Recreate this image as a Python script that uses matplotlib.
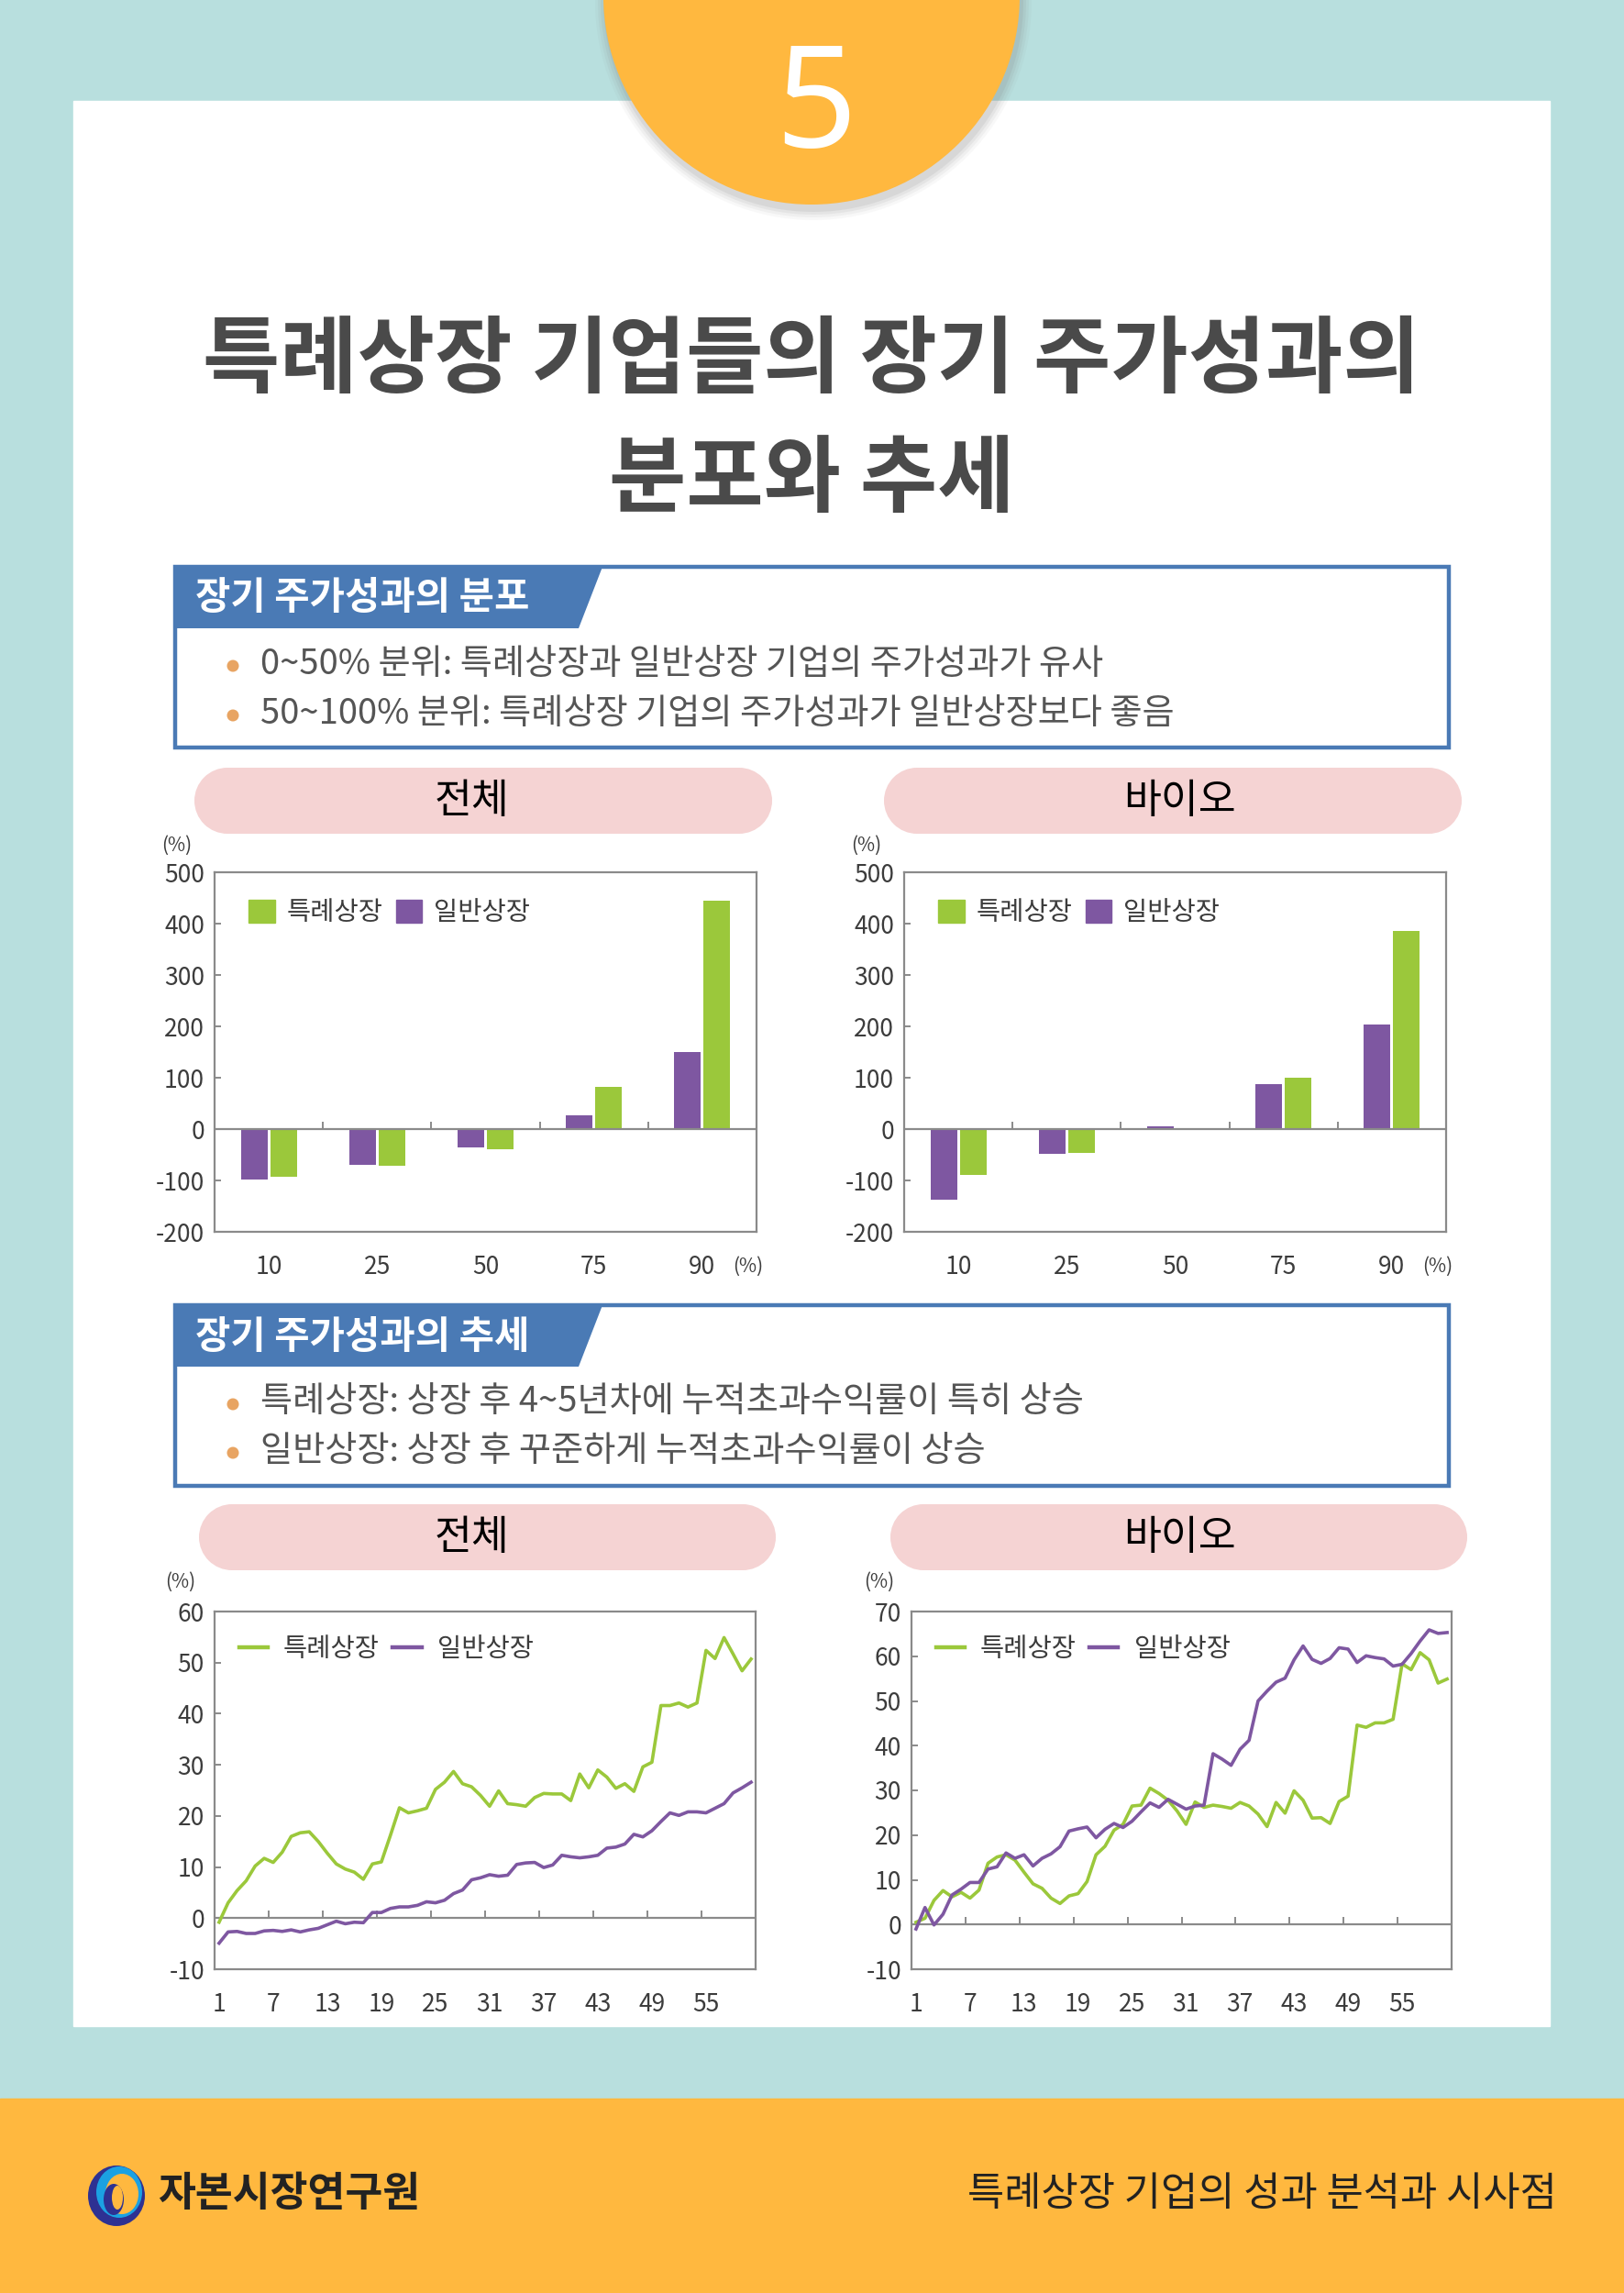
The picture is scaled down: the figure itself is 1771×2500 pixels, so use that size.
import matplotlib
matplotlib.use("Agg")
import matplotlib.pyplot as plt
from matplotlib.patches import Rectangle, Polygon, Circle, Ellipse, Patch
from matplotlib.lines import Line2D
import numpy as np

plt.rcParams["font.family"] = ["Noto Sans CJK KR", "DejaVu Sans"]
plt.rcParams["axes.unicode_minus"] = False

W, H = 1771, 2500

# === Data ===
series_names = ["특례상장", "일반상장"]
percentiles = ["10", "25", "50", "75", "90"]
bar_all_special = [-93, -72, -40, 82, 445]
bar_all_general = [-98, -70, -35, 26, 150]
bar_bio_special = [-89, -46, 0, 100, 386]
bar_bio_general = [-138, -49, 6, 87, 203]

months = list(range(1, 61))
month_labels = ["1", "7", "13", "19", "25", "31", "37", "43", "49", "55"]

line_all_special = [
    -0.8, 3.0, 5.4, 7.3, 10.2, 11.7, 10.9, 12.9, 16.0, 16.7,
    16.9, 15.0, 12.7, 10.6, 9.6, 9.0, 7.6, 10.6, 11.0, 16.2,
    21.6, 20.6, 21.0, 21.5, 25.2, 26.6, 28.7, 26.3, 25.7, 24.0,
    21.9, 24.9, 22.4, 22.2, 21.9, 23.6, 24.4, 24.3, 24.3, 23.0,
    28.2, 25.5, 29.0, 27.6, 25.4, 26.3, 24.8, 29.6, 30.5, 41.6,
    41.6, 42.1, 41.3, 42.1, 52.4, 50.8, 54.9, 51.7, 48.4, 50.7]
line_all_general = [
    -4.9, -2.7, -2.6, -3.0, -3.0, -2.5, -2.4, -2.6, -2.3, -2.7,
    -2.3, -2.0, -1.3, -0.6, -1.1, -0.8, -0.9, 1.1, 1.1, 1.9,
    2.2, 2.2, 2.5, 3.2, 3.0, 3.5, 4.8, 5.5, 7.5, 7.9,
    8.5, 8.2, 8.4, 10.5, 10.8, 10.9, 9.9, 10.4, 12.3, 12.0,
    11.8, 12.0, 12.3, 13.7, 13.9, 14.5, 16.4, 15.9, 17.1, 18.9,
    20.6, 20.1, 20.8, 20.8, 20.6, 21.5, 22.4, 24.5, 25.5, 26.6]
line_bio_special = [
    0.5, 1.4, 5.4, 7.6, 6.2, 7.2, 5.9, 7.7, 13.7, 15.1,
    15.6, 14.4, 11.7, 9.1, 8.1, 5.9, 4.7, 6.4, 6.9, 9.6,
    15.6, 17.5, 21.1, 22.4, 26.5, 26.7, 30.5, 29.3, 27.8, 25.4,
    22.4, 27.4, 26.2, 26.7, 26.4, 26.0, 27.3, 26.5, 24.7, 21.9,
    27.3, 24.9, 29.9, 27.8, 23.8, 23.9, 22.6, 27.5, 28.7, 44.6,
    44.1, 45.1, 45.1, 45.9, 58.3, 57.0, 60.8, 59.2, 54.0, 54.9]
line_bio_general = [
    -1.0, 3.8, -0.1, 2.3, 6.6, 7.9, 9.4, 9.4, 12.4, 12.9,
    16.0, 14.8, 15.6, 13.1, 14.8, 15.8, 17.4, 20.9, 21.4, 21.8,
    19.4, 21.3, 22.6, 21.7, 23.1, 25.2, 27.2, 26.2, 28.0, 26.9,
    25.8, 26.5, 26.7, 38.2, 37.0, 35.6, 39.2, 41.2, 50.0, 52.2,
    54.2, 55.1, 59.2, 62.3, 59.3, 58.4, 59.5, 61.9, 61.6, 58.6,
    60.1, 59.7, 59.4, 57.8, 58.2, 60.6, 63.4, 65.9, 65.1, 65.3]

# === Style ===
TEAL = "#B8DFDE"
ORANGE = "#FFB83F"
BLUE = "#4A7AB5"
PINK = "#F5D3D3"
GREEN = "#9BC83B"
PURPLE = "#7E57A1"
FRAME = "#8A8A8A"
TXT = "#3C3C3C"
BULLET = "#E8A462"

fig = plt.figure(figsize=(W / 100, H / 100), dpi=100)
fig.patch.set_facecolor(TEAL)

bg = fig.add_axes([0, 0, 1, 1])
bg.set_xlim(0, W)
bg.set_ylim(H, 0)
bg.axis("off")

# white panel and footer
bg.add_patch(Rectangle((80, 110), 1610, 2099, color="white", zorder=1))
bg.add_patch(Rectangle((0, 2288), W, 212, color=ORANGE, zorder=1))

# orange circle with soft shadow
for i, a in enumerate([0.05, 0.07, 0.09, 0.12]):
    bg.add_patch(Circle((887, 2), 238 - i * 3, color="#808080", alpha=a, zorder=2, lw=0))
bg.add_patch(Circle((885, -4), 227, color=ORANGE, zorder=3, lw=0))
bg.text(890, 120, "5", color="white", fontsize=112, ha="center", va="center",
        family=["Noto Sans", "DejaVu Sans"], zorder=4)

# title
bg.text(885, 394, "특례상장 기업들의 장기 주가성과의", fontsize=66, fontweight="bold",
        color="#4A4A4A", ha="center", va="center", zorder=4)
bg.text(885, 524, "분포와 추세", fontsize=66, fontweight="bold",
        color="#4A4A4A", ha="center", va="center", zorder=4)


def section_box(y0, y1, tab_bottom, title, lines):
    bg.add_patch(Rectangle((191, y0), 1389, y1 - y0, fill=False, edgecolor=BLUE,
                           lw=3.2, zorder=4))
    bg.add_patch(Polygon([(191, y0), (657, y0), (631, tab_bottom), (191, tab_bottom)],
                         closed=True, color=BLUE, zorder=4, lw=0))
    bg.text(213, (y0 + tab_bottom) / 2 + 1, title, color="white", fontsize=30,
            fontweight="bold", ha="left", va="center", zorder=5)
    for yy, s in lines:
        bg.add_patch(Circle((254, yy + 2), 6.5, color=BULLET, zorder=5, lw=0))
        bg.text(284, yy, s, color="#555555", fontsize=27.5, ha="left", va="center", zorder=5)


section_box(618, 815, 685, "장기 주가성과의 분포",
            [(724, "0~50% 분위: 특례상장과 일반상장 기업의 주가성과가 유사"),
             (778, "50~100% 분위: 특례상장 기업의 주가성과가 일반상장보다 좋음")])
section_box(1423, 1620, 1490, "장기 주가성과의 추세",
            [(1529, "특례상장: 상장 후 4~5년차에 누적초과수익률이 특히 상승"),
             (1582, "일반상장: 상장 후 꾸준하게 누적초과수익률이 상승")])


def pill(x0, x1, y0, y1, label, tx):
    h = y1 - y0
    r = h / 2
    bg.add_patch(Rectangle((x0 + r, y0), (x1 - x0) - h, h, color=PINK, zorder=4, lw=0))
    bg.add_patch(Ellipse((x0 + r, y0 + r), h, h, color=PINK, zorder=4, lw=0))
    bg.add_patch(Ellipse((x1 - r, y0 + r), h, h, color=PINK, zorder=4, lw=0))
    bg.text(tx, (y0 + y1) / 2, label, fontsize=32, color="black",
            ha="center", va="center", zorder=5)


pill(212, 842, 837, 909, "전체", 515)
pill(964, 1594, 837, 909, "바이오", 1286)
pill(217, 846, 1640, 1712, "전체", 515)
pill(971, 1600, 1640, 1712, "바이오", 1286)

# footer
for (cx, cy, w, h, c) in [(127, 2394, 62, 66, "#2E3192"), (130, 2390, 50, 56, "#1BA1E2"),
                          (133, 2392, 36, 44, ORANGE), (124, 2398, 22, 34, "#2E3192"),
                          (128, 2396, 12, 26, ORANGE)]:
    bg.add_patch(Ellipse((cx, cy), w, h, color=c, zorder=4, lw=0))
bg.text(172, 2392, "자본시장연구원", fontsize=32, fontweight="bold", color="#222222",
        ha="left", va="center", zorder=5)
bg.text(1698, 2392, "특례상장 기업의 성과 분석과 시사점", fontsize=31.5, color="#222222",
        ha="right", va="center", zorder=5)


def px_axes(x0, y0, x1, y1):
    ax = fig.add_axes([x0 / W, 1 - y1 / H, (x1 - x0) / W, (y1 - y0) / H])
    ax.set_zorder(10)
    ax.set_facecolor("white")
    for s in ax.spines.values():
        s.set_color(FRAME)
        s.set_linewidth(1.6)
    ax.tick_params(axis="y", direction="in", length=5, width=1.4, color=FRAME,
                   labelsize=19, labelcolor=TXT, pad=8)
    ax.tick_params(axis="x", length=0, labelsize=19, labelcolor=TXT, pad=18)
    return ax


def draw_bars(ax, special, general):
    x = np.arange(len(percentiles))
    ax.bar(x - 0.135, general, 0.245, color=PURPLE, zorder=3)
    ax.bar(x + 0.135, special, 0.245, color=GREEN, zorder=3)
    ax.set_xlim(-0.5, len(percentiles) - 0.5)
    ax.set_ylim(-200, 500)
    ax.set_yticks(range(-200, 501, 100))
    ax.set_xticks(x)
    ax.set_xticklabels(percentiles)
    ax.axhline(0, color=FRAME, lw=1.6, zorder=4)
    ax.vlines(x[:-1] + 0.5, 0, 14, color=FRAME, lw=1.4, zorder=4)
    handles = [Patch(color=GREEN), Patch(color=PURPLE)]
    ax.legend(handles, series_names, loc="upper left", bbox_to_anchor=(0.063, 0.925),
              ncol=2, frameon=False, fontsize=20.5, handlelength=1.0, handleheight=1.0,
              handletextpad=0.45, columnspacing=0.5, borderpad=0, borderaxespad=0,
              labelcolor=TXT)
    ax.text(-0.07, 1.075, "(%)", transform=ax.transAxes, fontsize=15, color=TXT,
            ha="center", va="center")
    ax.text(0.985, -0.097, "(%)", transform=ax.transAxes, fontsize=15, color=TXT,
            ha="center", va="center")


def draw_lines(ax, special, general, ymax):
    ax.plot(months, special, color=GREEN, lw=2.6, zorder=3, solid_joinstyle="round")
    ax.plot(months, general, color=PURPLE, lw=2.6, zorder=3, solid_joinstyle="round")
    ax.set_xlim(0.5, len(months) + 0.5)
    ax.set_ylim(-10, ymax)
    ax.set_yticks(range(-10, ymax + 1, 10))
    ax.set_xticks([int(m) for m in month_labels])
    ax.set_xticklabels(month_labels)
    ax.axhline(0, color=FRAME, lw=1.6, zorder=2)
    bounds = np.arange(6.5, len(months) - 5, 6)
    ax.vlines(bounds, 0, (ymax + 10) * 0.02, color=FRAME, lw=1.4, zorder=2)
    handles = [Line2D([], [], color=GREEN, lw=3.2), Line2D([], [], color=PURPLE, lw=3.2)]
    ax.legend(handles, series_names, loc="upper left", bbox_to_anchor=(0.045, 0.933),
              ncol=2, frameon=False, fontsize=20.5, handlelength=1.1,
              handletextpad=0.6, columnspacing=0.5, borderpad=0, borderaxespad=0,
              labelcolor=TXT)


ax1 = px_axes(234, 951, 825, 1343)
draw_bars(ax1, bar_all_special, bar_all_general)
ax2 = px_axes(986, 951, 1577, 1343)
draw_bars(ax2, bar_bio_special, bar_bio_general)

ax3 = px_axes(234, 1757, 824, 2147)
draw_lines(ax3, line_all_special, line_all_general, 60)
ax3.text(-0.063, 1.082, "(%)", transform=ax3.transAxes, fontsize=15, color=TXT,
         ha="center", va="center")
ax4 = px_axes(994, 1757, 1583, 2147)
draw_lines(ax4, line_bio_special, line_bio_general, 70)
ax4.text(-0.06, 1.082, "(%)", transform=ax4.transAxes, fontsize=15, color=TXT,
         ha="center", va="center")

fig.savefig("out.png", dpi=100, facecolor=TEAL)
